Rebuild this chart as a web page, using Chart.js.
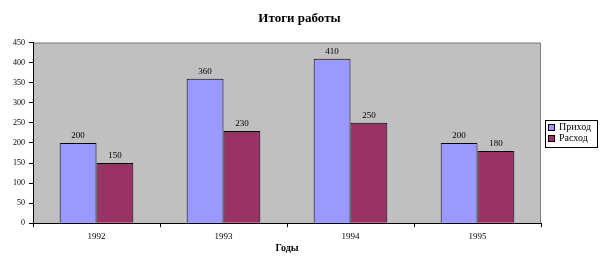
<!DOCTYPE html>
<html>
<head>
<meta charset="utf-8">
<script src="https://cdn.jsdelivr.net/npm/chart.js@4"></script>
<style>
  body { margin: 0; background: #fff; }
  #wrap { width: 600px; height: 263px; }
</style>
</head>
<body>
<div id="wrap"><canvas id="graficoItogi"></canvas></div>
<script>
// Итоги работы - приход / расход по годам
const years = ['1992', '1993', '1994', '1995'];
const prihod = [200, 360, 410, 200];
const rashod = [150, 230, 250, 180];

// фон области построения и рамка
const plotBg = {
    id: 'plotBg',
    beforeDraw(chart) {
        const { ctx, chartArea: a } = chart;
        ctx.save();
        ctx.fillStyle = '#c0c0c0';
        ctx.fillRect(a.left, a.top, a.right - a.left, a.bottom - a.top);
        ctx.strokeStyle = '#808080';
        ctx.lineWidth = 1;
        ctx.beginPath();
        ctx.moveTo(a.left, a.top + 0.5);
        ctx.lineTo(a.right - 0.5, a.top + 0.5);
        ctx.lineTo(a.right - 0.5, a.bottom);
        ctx.stroke();
        ctx.restore();
    }
};

// легенда в рамке справа
const boxLegend = {
    id: 'boxLegend',
    afterDraw(chart) {
        const ctx = chart.ctx;
        const x = 545, y = 120, w = 52, h = 27;
        ctx.save();
        ctx.strokeStyle = '#000';
        ctx.lineWidth = 1;
        ctx.strokeRect(x + 0.5, y + 0.5, w, h);
        ctx.font = '10px "Liberation Serif"';
        ctx.textBaseline = 'middle';
        chart.data.datasets.forEach((ds, i) => {
            const cy = y + 7.5 + i * 11;
            ctx.fillStyle = ds.backgroundColor;
            ctx.fillRect(x + 3.5, cy - 3, 6, 6);
            ctx.strokeRect(x + 3.5, cy - 3, 6, 6);
            ctx.fillStyle = '#000';
            ctx.fillText(ds.label, x + 14, cy);
        });
        ctx.restore();
    }
};

// подписи значений над столбцами
const barLabels = {
    id: 'barLabels',
    afterDatasetsDraw(chart) {
        const ctx = chart.ctx;
        ctx.save();
        ctx.font = '9px "Liberation Serif"';
        ctx.fillStyle = '#000';
        ctx.textAlign = 'center';
        ctx.textBaseline = 'bottom';
        chart.data.datasets.forEach((ds, i) => {
            chart.getDatasetMeta(i).data.forEach((bar, j) => {
                ctx.fillText(ds.data[j], bar.x, bar.y - 3);
            });
        });
        ctx.restore();
    }
};

const ctx = document.getElementById('graficoItogi').getContext('2d');
new Chart(ctx, {
    type: 'bar',
    data: {
        labels: years,
        datasets: [{
            label: 'Приход',
            data: prihod,
            backgroundColor: '#9999ff',
            borderColor: '#000',
            borderWidth: 1
        }, {
            label: 'Расход',
            data: rashod,
            backgroundColor: '#993366',
            borderColor: '#000',
            borderWidth: 1
        }]
    },
    options: {
        responsive: true,
        maintainAspectRatio: false,
        animation: false,
        layout: { padding: { left: 9, right: 10, top: 8, bottom: 9 } },
        datasets: { bar: { categoryPercentage: 0.58, barPercentage: 1 } },
        scales: {
            x: {
                grid: { drawOnChartArea: false, drawTicks: true, tickLength: 4, color: '#000' },
                border: { color: '#000' },
                ticks: { color: '#000', font: { family: 'Liberation Serif', size: 9 }, padding: 4 },
                title: { display: true, text: 'Годы', color: '#000', font: { family: 'Liberation Serif', size: 10, weight: 'bold' }, padding: { top: -4, bottom: 0 } }
            },
            y: {
                min: 0,
                max: 450,
                grid: { drawOnChartArea: false, drawTicks: true, tickLength: 4, color: '#000' },
                border: { color: '#000' },
                ticks: { stepSize: 50, color: '#000', font: { family: 'Liberation Serif', size: 8 }, padding: 4 }
            },
            // пустое место под легенду справа
            yRight: {
                position: 'right',
                grid: { display: false },
                border: { display: false },
                ticks: { display: false },
                afterFit(scale) { scale.width = 49; }
            }
        },
        plugins: {
            title: {
                display: true,
                text: 'Итоги работы',
                color: '#000',
                font: { family: 'Liberation Serif', size: 13, weight: 'bold' },
                padding: { top: 3, bottom: 16 }
            },
            legend: { display: false },
            tooltip: { enabled: false }
        }
    },
    plugins: [plotBg, barLabels, boxLegend]
});
</script>
</body>
</html>
